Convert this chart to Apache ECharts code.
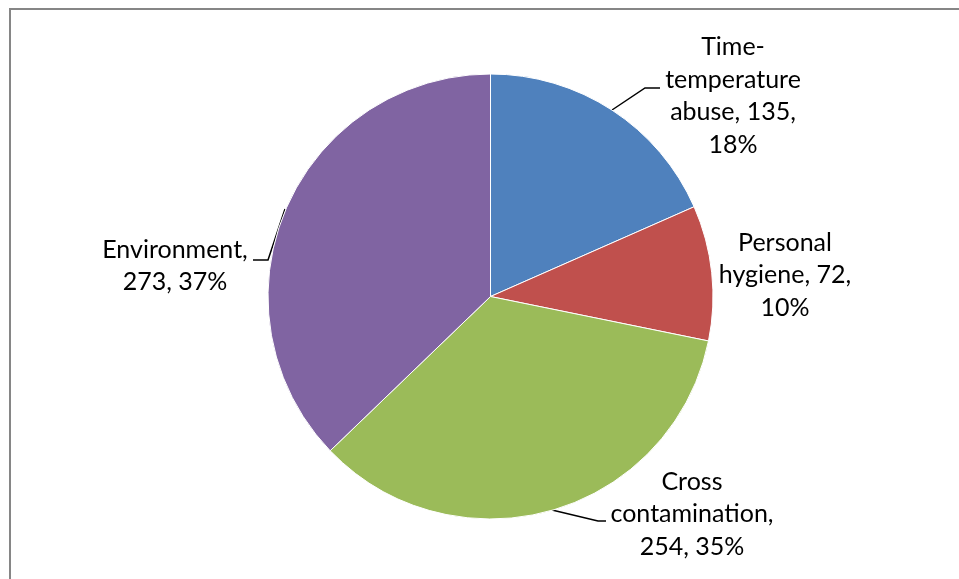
<!DOCTYPE html>
<html>
<head>
<meta charset="utf-8">
<script src="https://cdn.jsdelivr.net/npm/echarts@6/dist/echarts.min.js"></script>
<style>
html,body{margin:0;padding:0;background:#fff;}
#chart{width:959px;height:579px;}
</style>
</head>
<body>
<div id="chart"></div>
<script>
var categories = ['Time-temperature abuse', 'Personal hygiene', 'Cross contamination', 'Environment'];
var values = [135, 72, 254, 273];
var colors = ['#4F81BD', '#C0504D', '#9BBB59', '#8064A2'];
// label text lines: {c} value, {d} percent
var labelTemplates = [
  'Time-\ntemperature\nabuse, {c},\n{d}%',
  'Personal\nhygiene, {c},\n{d}%',
  'Cross\ncontamination,\n{c}, {d}%',
  'Environment,\n{c}, {d}%'
];
// label anchor positions and leader lines (pixels)
var labelPos = [[733, 96], [785, 275], [692, 514], [175, 266]];
var leaderLines = [
  [[612, 110], [645, 88], [660, 88]],
  null,
  [[552, 510], [598, 521], [606, 521]],
  [[285, 209], [268, 260], [253, 260]]
];

var chart = echarts.init(document.getElementById('chart'), null, {renderer: 'canvas'});
var data = categories.map(function (n, i) {
  return {
    name: n,
    value: values[i],
    itemStyle: {color: colors[i]},
    labelLine: {show: !!leaderLines[i]}
  };
});
chart.setOption({
  animation: false,
  graphic: [{
    type: 'rect',
    shape: {x: 10, y: 9, width: 2000, height: 2000},
    style: {fill: 'none', stroke: '#868686', lineWidth: 2},
    silent: true
  }],
  series: [{
    type: 'pie',
    center: [490.5, 296.5],
    radius: 222.5,
    startAngle: 90,
    clockwise: true,
    percentPrecision: 0,
    data: data,
    itemStyle: {borderColor: '#ffffff', borderWidth: 1},
    label: {
      show: true,
      position: 'outside',
      color: '#000',
      fontFamily: 'Lato',
      fontSize: 25,
      lineHeight: 32.5,
      align: 'center',
      formatter: function (p) {
        return labelTemplates[p.dataIndex]
          .replace('{c}', p.value)
          .replace('{d}', Math.round(p.percent));
      }
    },
    labelLine: {show: true, lineStyle: {color: '#000', width: 1.5}, length: 10, length2: 10},
    labelLayout: function (p) {
      var i = p.dataIndex;
      var r = {x: labelPos[i][0], y: labelPos[i][1], align: 'center', verticalAlign: 'middle'};
      if (leaderLines[i]) r.labelLinePoints = leaderLines[i];
      return r;
    }
  }]
});
</script>
</body>
</html>
